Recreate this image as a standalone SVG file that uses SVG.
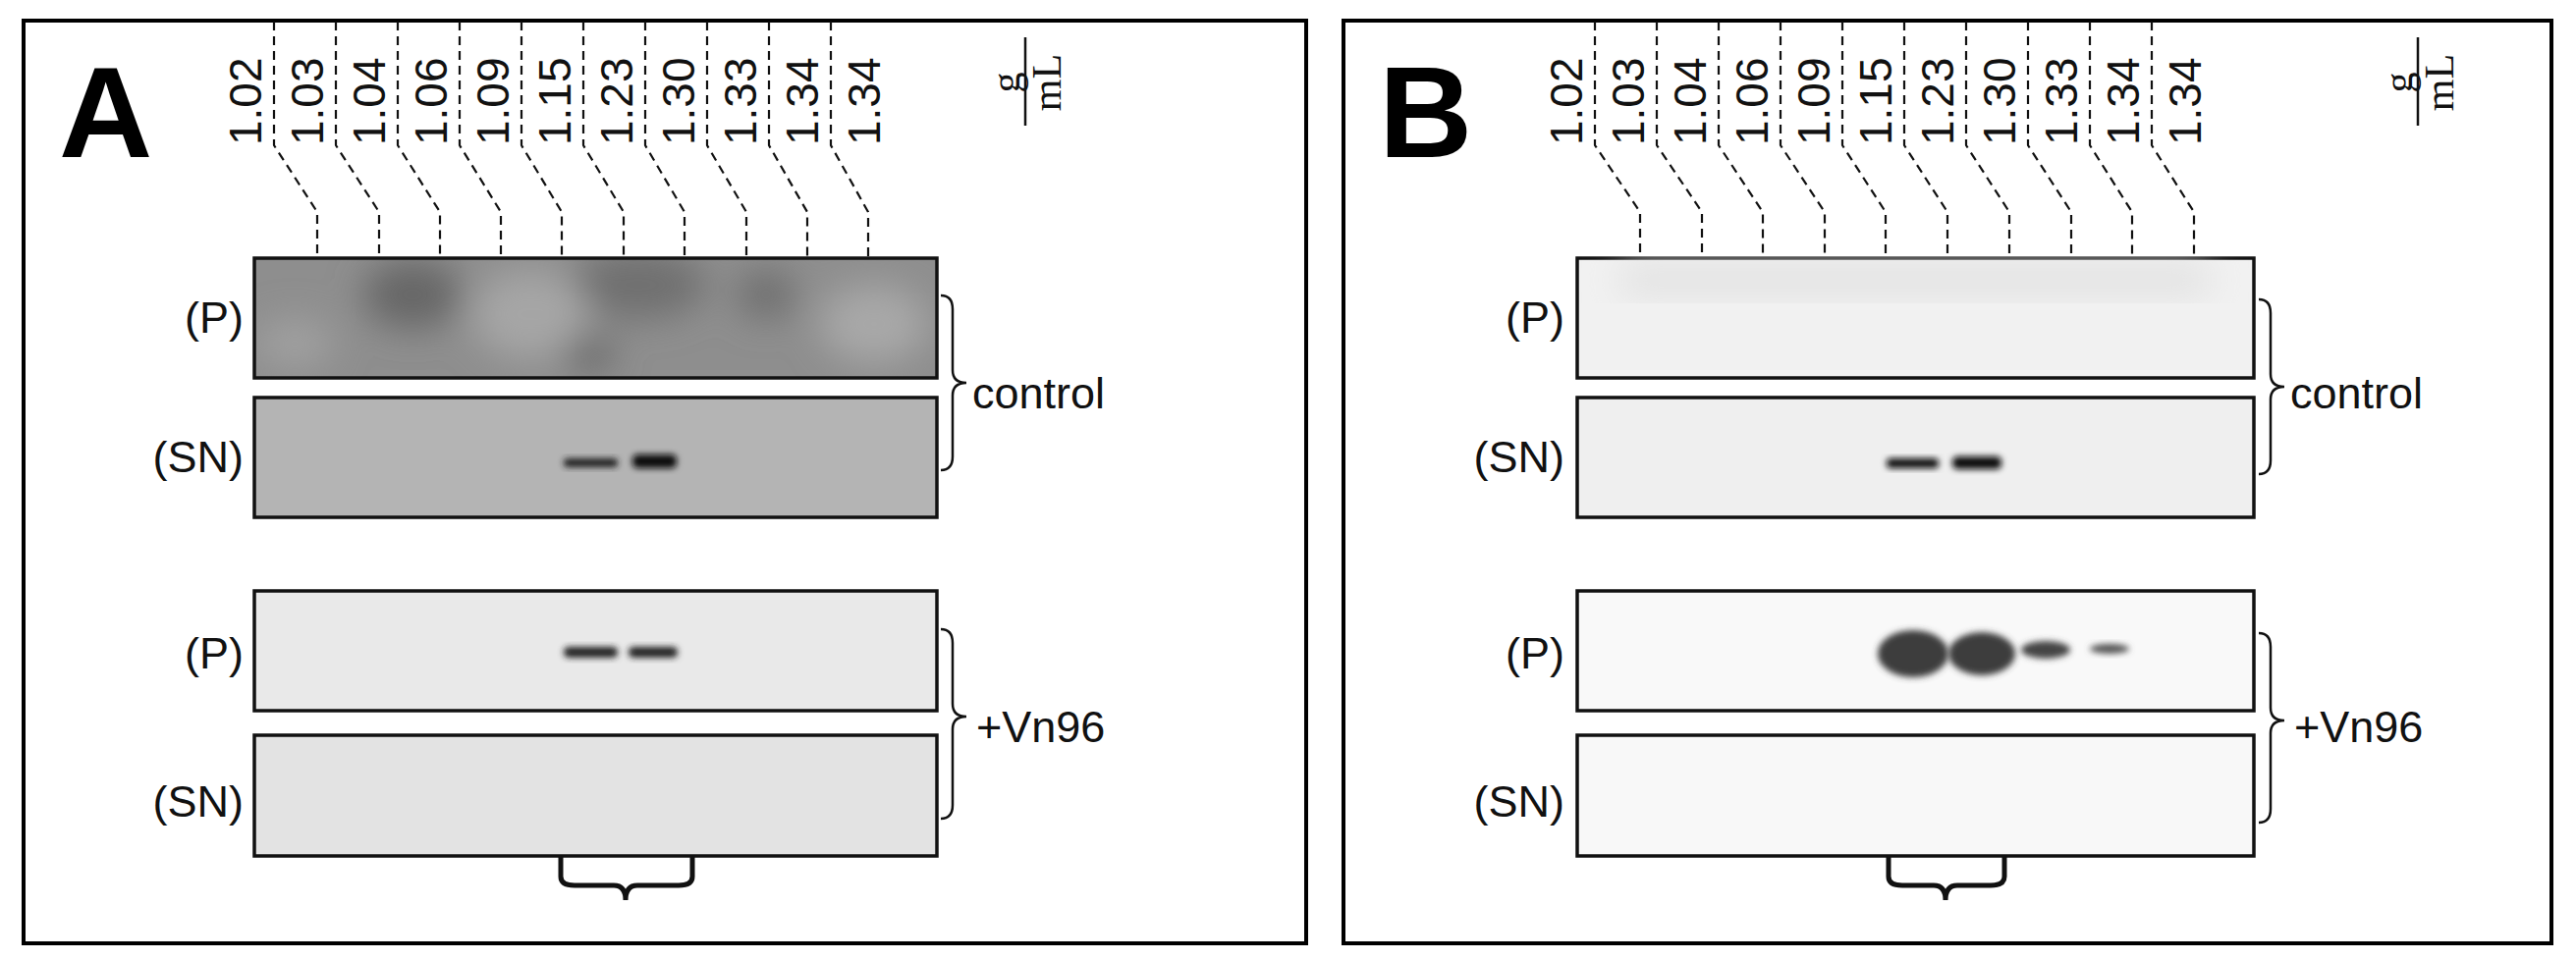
<svg xmlns="http://www.w3.org/2000/svg" width="2623" height="978" viewBox="0 0 2623 978">
<style>
.frame{fill:#fff;stroke:#000;stroke-width:4}
.blot{stroke:#111;stroke-width:3.5}
.lbl{font-family:"Liberation Sans",Arial,sans-serif;font-size:45px;fill:#111}
.num{font-family:"Liberation Sans",Arial,sans-serif;font-size:46px;fill:#111}
.big{font-family:"Liberation Sans",Arial,sans-serif;font-size:132px;font-weight:bold;fill:#000}
.unit{font-family:"Liberation Serif","Times New Roman",serif;font-size:42px;fill:#111}
.dash{fill:none;stroke:#111;stroke-width:2.2;stroke-dasharray:9 6}
.brace{fill:none;stroke:#111;stroke-width:2.5}
.brace2{fill:none;stroke:#111;stroke-width:5}
</style>
<defs>
<filter id="bl" x="-30%" y="-50%" width="160%" height="200%"><feGaussianBlur stdDeviation="3"/></filter>
<filter id="bl2" x="-30%" y="-30%" width="160%" height="160%"><feGaussianBlur stdDeviation="18"/></filter>
<clipPath id="cA1"><rect x="259" y="263" width="695" height="122"/></clipPath>
</defs>
<rect width="2623" height="978" fill="#fff"/>
<g id="panelA">
<rect class="frame" x="24" y="21" width="1306" height="940"/>
<text class="big" x="60" y="160">A</text>
<g id="A-blot1">
<rect x="259" y="263" width="695" height="122" fill="#8e8e8e"/>
<g clip-path="url(#cA1)" filter="url(#bl2)">
<ellipse cx="420" cy="300" rx="50" ry="35" fill="#666"/>
<ellipse cx="650" cy="290" rx="70" ry="35" fill="#707070"/>
<ellipse cx="540" cy="320" rx="60" ry="45" fill="#a6a6a6"/>
<ellipse cx="890" cy="330" rx="55" ry="40" fill="#a8a8a8"/>
<ellipse cx="600" cy="360" rx="25" ry="18" fill="#666"/>
<ellipse cx="300" cy="350" rx="40" ry="25" fill="#a0a0a0"/>
<ellipse cx="780" cy="300" rx="30" ry="25" fill="#6e6e6e"/>
</g>
<rect class="blot" x="259" y="263" width="695" height="122" fill="none"/>
</g>
<g id="A-blot2">
<rect class="blot" x="259" y="405" width="695" height="122" fill="#b4b4b4"/>
<rect x="574" y="467" width="55" height="9" rx="4" fill="#222" filter="url(#bl)"/>
<rect x="644" y="463" width="45" height="14" rx="5" fill="#111" filter="url(#bl)"/>
</g>
<g id="A-blot3">
<rect class="blot" x="259" y="602" width="695" height="122" fill="#e9e9e9"/>
<rect x="574" y="659" width="55" height="11" rx="5" fill="#222" filter="url(#bl)"/>
<rect x="640" y="659" width="50" height="11" rx="5" fill="#222" filter="url(#bl)"/>
</g>
<g id="A-blot4"><rect class="blot" x="259" y="749" width="695" height="123" fill="#e3e3e3"/></g>
<text class="lbl" x="248" y="339" text-anchor="end">(P)</text>
<text class="lbl" x="248" y="481" text-anchor="end">(SN)</text>
<text class="lbl" x="248" y="681" text-anchor="end">(P)</text>
<text class="lbl" x="248" y="832" text-anchor="end">(SN)</text>
<g id="A-nums" class="num">
<text transform="translate(266,148) rotate(-90)">1.02</text>
<text transform="translate(329,148) rotate(-90)">1.03</text>
<text transform="translate(392,148) rotate(-90)">1.04</text>
<text transform="translate(455,148) rotate(-90)">1.06</text>
<text transform="translate(518,148) rotate(-90)">1.09</text>
<text transform="translate(581,148) rotate(-90)">1.15</text>
<text transform="translate(644,148) rotate(-90)">1.23</text>
<text transform="translate(707,148) rotate(-90)">1.30</text>
<text transform="translate(770,148) rotate(-90)">1.33</text>
<text transform="translate(833,148) rotate(-90)">1.34</text>
<text transform="translate(896,148) rotate(-90)">1.34</text>
</g>
<text class="unit" transform="translate(1038,84) rotate(-90)" text-anchor="middle">g</text>
<line x1="1044" y1="38" x2="1044" y2="128" stroke="#111" stroke-width="2.5"/>
<text class="unit" transform="translate(1080,84) rotate(-90)" text-anchor="middle">mL</text>
<path class="brace" d="M958,301 q12,0 12,14 v62 q0,13 14,13 q-14,0 -14,13 v62 q0,14 -12,14"/>
<text class="lbl" x="990" y="416" font-size="48">control</text>
<path class="brace" d="M958,641 q12,0 12,14 v62 q0,13 14,13 q-14,0 -14,13 v77 q0,14 -12,14"/>
<text class="lbl" x="994" y="756" font-size="48">+Vn96</text>
<path class="brace2" d="M571,873 v20 q0,9 14,9 h40 q12,0 12,15 q0,-15 12,-15 h42 q14,0 14,-9 v-20"/>
</g>
<g id="panelB">
<rect class="frame" x="1368" y="21" width="1230" height="940"/>
<text class="big" x="1404" y="160">B</text>
<g id="B-blot1">
<rect class="blot" x="1606" y="263" width="689" height="122" fill="#f1f1f1"/>
<rect x="1650" y="270" width="600" height="30" fill="#e0e0e0" filter="url(#bl2)"/>
</g>
<g id="B-blot2">
<rect class="blot" x="1606" y="405" width="689" height="122" fill="#efefef"/>
<rect x="1921" y="467" width="53" height="10" rx="4" fill="#111" filter="url(#bl)"/>
<rect x="1988" y="465" width="50" height="13" rx="5" fill="#111" filter="url(#bl)"/>
</g>
<g id="B-blot3">
<rect class="blot" x="1606" y="602" width="689" height="122" fill="#f9f9f9"/>
<ellipse cx="1948" cy="666" rx="36" ry="24" fill="#3e3e3e" filter="url(#bl)"/>
<ellipse cx="2018" cy="666" rx="34" ry="22" fill="#3e3e3e" filter="url(#bl)"/>
<ellipse cx="2083" cy="662" rx="25" ry="9" fill="#444" filter="url(#bl)"/>
<ellipse cx="2148" cy="661" rx="20" ry="5" fill="#555" filter="url(#bl)"/>
</g>
<g id="B-blot4"><rect class="blot" x="1606" y="749" width="689" height="123" fill="#f8f8f8"/></g>
<text class="lbl" x="1593" y="339" text-anchor="end">(P)</text>
<text class="lbl" x="1593" y="481" text-anchor="end">(SN)</text>
<text class="lbl" x="1593" y="681" text-anchor="end">(P)</text>
<text class="lbl" x="1593" y="832" text-anchor="end">(SN)</text>
<g id="B-nums" class="num">
<text transform="translate(1611,148) rotate(-90)">1.02</text>
<text transform="translate(1674,148) rotate(-90)">1.03</text>
<text transform="translate(1737,148) rotate(-90)">1.04</text>
<text transform="translate(1800,148) rotate(-90)">1.06</text>
<text transform="translate(1863,148) rotate(-90)">1.09</text>
<text transform="translate(1926,148) rotate(-90)">1.15</text>
<text transform="translate(1989,148) rotate(-90)">1.23</text>
<text transform="translate(2052,148) rotate(-90)">1.30</text>
<text transform="translate(2115,148) rotate(-90)">1.33</text>
<text transform="translate(2178,148) rotate(-90)">1.34</text>
<text transform="translate(2241,148) rotate(-90)">1.34</text>
</g>
<text class="unit" transform="translate(2456,84) rotate(-90)" text-anchor="middle">g</text>
<line x1="2462" y1="38" x2="2462" y2="128" stroke="#111" stroke-width="2.5"/>
<text class="unit" transform="translate(2498,84) rotate(-90)" text-anchor="middle">mL</text>
<path class="brace" d="M2300,305 q12,0 12,14 v62 q0,13 14,13 q-14,0 -14,13 v62 q0,14 -12,14"/>
<text class="lbl" x="2332" y="416" font-size="48">control</text>
<path class="brace" d="M2300,645 q12,0 12,14 v62 q0,13 14,13 q-14,0 -14,13 v77 q0,14 -12,14"/>
<text class="lbl" x="2336" y="756" font-size="48">+Vn96</text>
<path class="brace2" d="M1923,873 v20 q0,9 14,9 h32 q12,0 12,15 q0,-15 12,-15 h34 q14,0 14,-9 v-20"/>
</g>
<g id="connectors">
<path class="dash" d="M279,22 v126 l44,68 v47"/>
<path class="dash" d="M342,22 v126 l44,68 v47"/>
<path class="dash" d="M405,22 v126 l43,68 v47"/>
<path class="dash" d="M468,22 v126 l42,68 v47"/>
<path class="dash" d="M531,22 v126 l41,68 v47"/>
<path class="dash" d="M594,22 v126 l41,68 v47"/>
<path class="dash" d="M657,22 v126 l40,68 v47"/>
<path class="dash" d="M720,22 v126 l40,68 v47"/>
<path class="dash" d="M783,22 v126 l39,68 v47"/>
<path class="dash" d="M846,22 v126 l38,68 v47"/>
<path class="dash" d="M1624,22 v126 l46,68 v47"/>
<path class="dash" d="M1687,22 v126 l46,68 v47"/>
<path class="dash" d="M1750,22 v126 l45,68 v47"/>
<path class="dash" d="M1813,22 v126 l45,68 v47"/>
<path class="dash" d="M1876,22 v126 l44,68 v47"/>
<path class="dash" d="M1939,22 v126 l44,68 v47"/>
<path class="dash" d="M2002,22 v126 l44,68 v47"/>
<path class="dash" d="M2065,22 v126 l44,68 v47"/>
<path class="dash" d="M2128,22 v126 l43,68 v47"/>
<path class="dash" d="M2191,22 v126 l43,68 v47"/>
</g>
</svg>
